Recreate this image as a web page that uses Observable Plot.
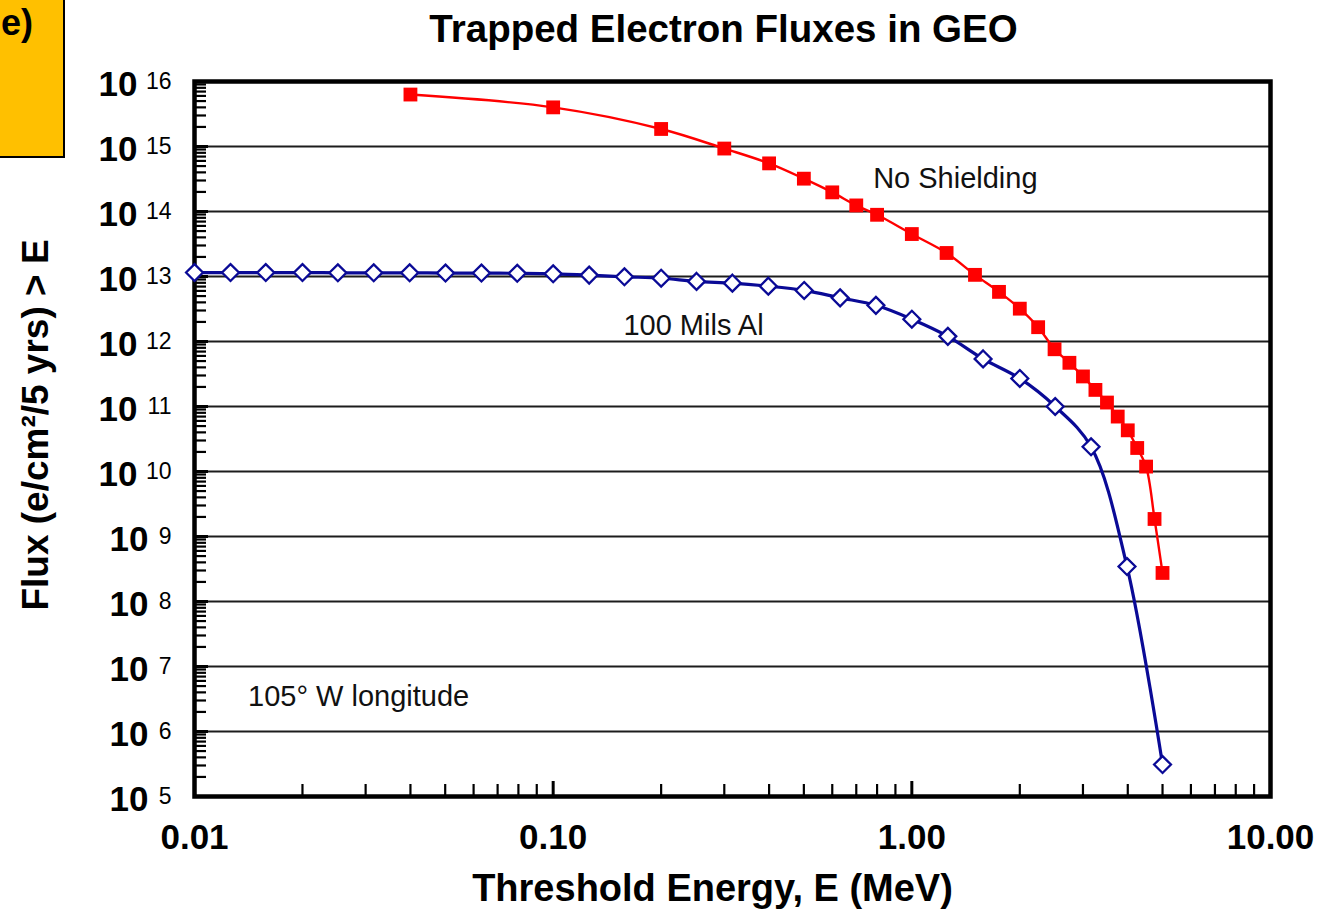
<!DOCTYPE html>
<html><head><meta charset="utf-8">
<script src="https://cdn.jsdelivr.net/npm/d3@7"></script>
<script src="https://cdn.jsdelivr.net/npm/@observablehq/plot@0.6"></script>
<style>
html,body{margin:0;padding:0;background:#fff;overflow:hidden;}
#wrap{position:relative;width:1334px;height:911px;overflow:hidden;}
#tag{position:absolute;z-index:2;left:-3px;top:-3px;width:68px;height:161px;background:#FFC000;border:2px solid #000;box-sizing:border-box;font:bold 36px "Liberation Sans",Arial,sans-serif;padding:6px 0 0 2px;line-height:1;}
#wrap svg{position:absolute;left:0;top:0;}
</style></head><body>
<div id="wrap"><div id="tag">e)</div></div>
<script>
// --- data ---
const blueEnergy = [0.01, 0.0126, 0.0158, 0.02, 0.0251, 0.0316, 0.0398, 0.0501, 0.0631, 0.0794,
  0.1, 0.126, 0.158, 0.2, 0.251, 0.316, 0.398, 0.501, 0.631, 0.794,
  1.0, 1.26, 1.58, 2.0, 2.51, 3.16, 3.98, 5.0];
const blueFlux = [1.15e13, 1.15e13, 1.15e13, 1.15e13, 1.14e13, 1.14e13, 1.14e13, 1.13e13, 1.13e13, 1.12e13,
  1.1e13, 1.05e13, 9.9e12, 9.4e12, 8.4e12, 7.9e12, 7.1e12, 6.1e12, 4.7e12, 3.6e12,
  2.2e12, 1.2e12, 5.4e11, 2.7e11, 1.0e11, 2.4e10, 3.45e8, 3.1e5];
const redEnergy = [0.04, 0.1, 0.2, 0.3, 0.4, 0.5, 0.6, 0.7, 0.8, 1.0, 1.25, 1.5, 1.75,
  2.0, 2.25, 2.5, 2.75, 3.0, 3.25, 3.5, 3.75, 4.0, 4.25, 4.5, 4.75, 5.0];
const redFlux = [6.3e15, 4.0e15, 1.86e15, 9.3e14, 5.5e14, 3.2e14, 1.97e14, 1.24e14, 8.9e13, 4.5e13, 2.3e13, 1.06e13, 5.8e12,
  3.2e12, 1.66e12, 7.6e11, 4.7e11, 2.9e11, 1.8e11, 1.15e11, 7.0e10, 4.3e10, 2.3e10, 1.19e10, 1.86e9, 2.75e8];

const xTickValues = [0.01, 0.1, 1, 10];
const xTickLabels = ["0.01", "0.10", "1.00", "10.00"];
const yExponents = [5, 6, 7, 8, 9, 10, 11, 12, 13, 14, 15, 16];

const titleText = "Trapped Electron Fluxes in GEO";
const xLabel = "Threshold Energy, E (MeV)";
const yLabel = "Flux (e/cm²/5 yrs) > E";
const annotations = [
  {text: "No Shielding", e: 0.78, f: 3.2e14},
  {text: "100 Mils Al", e: 0.157, f: 1.78e12},
  {text: "105° W longitude", e: 0.0141, f: 3.4e6}
];

// --- derived tables ---
const blue = blueEnergy.map((e, i) => ({e, f: blueFlux[i]}));
const red = redEnergy.map((e, i) => ({e, f: redFlux[i]}));
const decades = yExponents.map(p => Math.pow(10, p));
const gridDecades = decades.filter(v => v > 1e5 && v < 1e16);
const minorY = [];
for (const p of yExponents.slice(0, -1)) for (let k = 2; k <= 9; k++) minorY.push(k * Math.pow(10, p));
const minorX = [];
for (const p of [-2, -1, 0]) for (let k = 2; k <= 9; k++) minorX.push(k * Math.pow(10, p));
const majorXInner = xTickValues.filter(v => v > 0.01 && v < 10);
const twoDigit = decades.filter(v => Math.log10(v) >= 10);
const oneDigit = decades.filter(v => Math.log10(v) < 10);
const expo = v => String(Math.round(Math.log10(v)));

const FONT = "Liberation Sans, Arial, Helvetica, sans-serif";
const BLUE = "#0a0a96";
const RED = "#ff0000";

const chart = Plot.plot({
  width: 1334,
  height: 911,
  marginLeft: 194,
  marginRight: 64,
  marginTop: 81,
  marginBottom: 115,
  style: {fontFamily: FONT, background: "white", color: "black"},
  x: {type: "log", domain: [0.01, 10]},
  y: {type: "log", domain: [1e5, 1e16]},
  marks: [
    Plot.ruleY(gridDecades, {stroke: "#1c1c1c", strokeWidth: 2}),
    Plot.axisY({ticks: minorY, anchor: "left", tickSize: 12, dx: 12, tickFormat: () => "", label: null, strokeWidth: 2.2}),
    Plot.axisY({ticks: decades, anchor: "left", tickSize: 14, dx: 14, tickFormat: () => "", label: null, strokeWidth: 3}),
    Plot.axisX({ticks: minorX, anchor: "bottom", tickSize: 12, dy: -12, tickFormat: () => "", label: null, strokeWidth: 2.2}),
    Plot.axisX({ticks: majorXInner, anchor: "bottom", tickSize: 15, dy: -15, tickFormat: () => "", label: null, strokeWidth: 3}),
    Plot.frame({stroke: "black", strokeWidth: 4.5}),
    // series
    Plot.line(red, {x: "e", y: "f", stroke: RED, strokeWidth: 2.4, curve: "catmull-rom"}),
    Plot.dot(red, {x: "e", y: "f", symbol: "square", r: 7.8, fill: RED, stroke: "none"}),
    Plot.line(blue, {x: "e", y: "f", stroke: BLUE, strokeWidth: 3.2, curve: "catmull-rom"}),
    Plot.dot(blue, {x: "e", y: "f", symbol: "diamond2", r: 7.6, fill: "white", stroke: BLUE, strokeWidth: 2.3}),
    // y tick labels: "10" + exponent
    Plot.text(twoDigit, {y: d => d, text: () => "10", frameAnchor: "left", textAnchor: "end", lineAnchor: "middle",
      dx: -57, dy: 3, fontSize: 35, fontWeight: "bold", fill: "black"}),
    Plot.text(oneDigit, {y: d => d, text: () => "10", frameAnchor: "left", textAnchor: "end", lineAnchor: "middle",
      dx: -46, dy: 3, fontSize: 35, fontWeight: "bold", fill: "black"}),
    Plot.text(decades, {y: d => d, text: expo, frameAnchor: "left", textAnchor: "end", lineAnchor: "middle",
      dx: -23, dy: 0, fontSize: 23, fill: "black"}),
    // x tick labels
    Plot.text(xTickValues, {x: d => d, text: (d, i) => xTickLabels[i], frameAnchor: "bottom", textAnchor: "middle", lineAnchor: "middle",
      dy: 41, fontSize: 35, fontWeight: "bold", fill: "black"}),
    // annotations
    Plot.text(annotations, {x: "e", y: "f", text: "text", textAnchor: "start", lineAnchor: "middle", fontSize: 29, fill: "#111"}),
    // titles
    Plot.text([titleText], {text: d => d, frameAnchor: "top", textAnchor: "middle", lineAnchor: "middle", dx: -9, dy: -52,
      fontSize: 38.5, fontWeight: "bold", fill: "black"}),
    Plot.text([xLabel], {text: d => d, frameAnchor: "bottom", textAnchor: "middle", lineAnchor: "middle", dx: -20, dy: 92,
      fontSize: 38, fontWeight: "bold", fill: "black"}),
    Plot.text([yLabel], {text: d => d, frameAnchor: "left", textAnchor: "middle", lineAnchor: "middle", rotate: -90, dx: -158, dy: -14,
      fontSize: 37, fontWeight: "bold", fill: "black"})
  ]
});
document.getElementById("wrap").appendChild(chart);
</script>
</body></html>
